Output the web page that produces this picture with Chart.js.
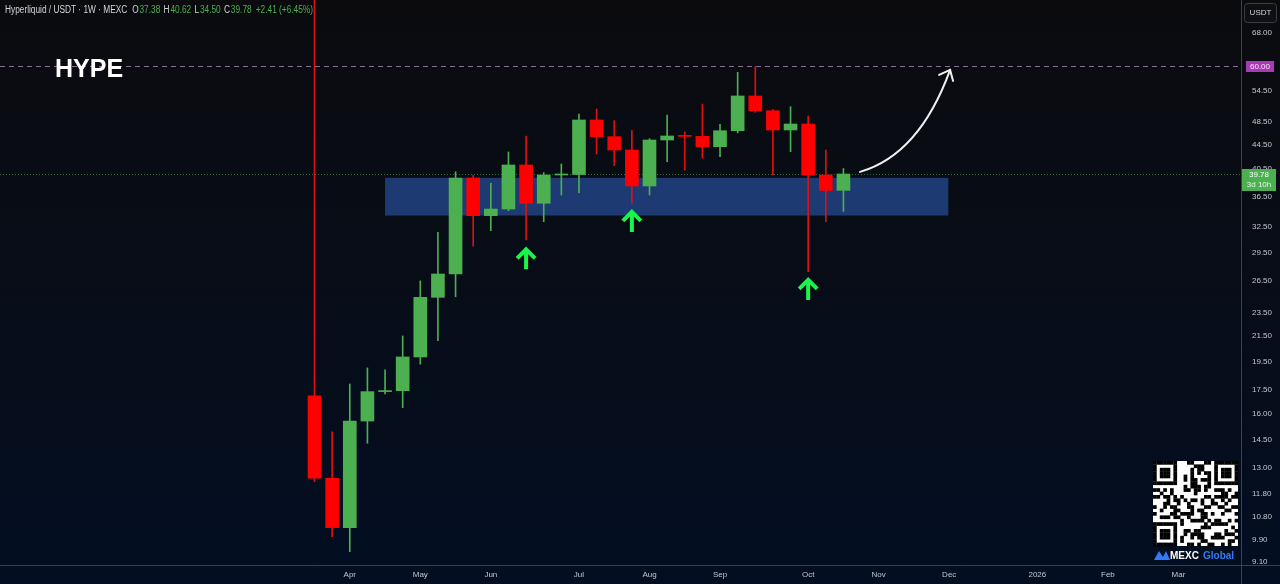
<!DOCTYPE html>
<html>
<head>
<meta charset="utf-8">
<script src="https://cdn.jsdelivr.net/npm/chart.js@4.4.1/dist/chart.umd.min.js"></script>
<style>
  html, body { margin: 0; padding: 0; background: #07090f; }
  canvas { display: block; }
</style>
</head>
<body>
<canvas id="chart" width="1280" height="584"></canvas>
<script>
// weekly candles, HYPE/USDT (MEXC)
const weeks = ['2025-03-17', '2025-03-24', '2025-03-31', '2025-04-07', '2025-04-14', '2025-04-21', '2025-04-28',
    '2025-05-05', '2025-05-12', '2025-05-19', '2025-05-26', '2025-06-02', '2025-06-09', '2025-06-16', '2025-06-23',
    '2025-06-30', '2025-07-07', '2025-07-14', '2025-07-21', '2025-07-28', '2025-08-04', '2025-08-11', '2025-08-18',
    '2025-08-25', '2025-09-01', '2025-09-08', '2025-09-15', '2025-09-22', '2025-09-29', '2025-10-06', '2025-10-13'];
const opens  = [17.12, 12.51, 10.37, 15.55, 17.39, 17.45, 19.84, 24.89, 27.20, 39.18, 33.95, 34.82, 41.17, 35.59, 39.63,
    39.70, 48.85, 45.85, 43.58, 38.01, 45.27, 45.97, 45.90, 44.13, 46.90, 53.52, 50.60, 47.03, 48.11, 39.63, 37.38];
const highs  = [90.00, 14.93, 17.90, 19.03, 18.90, 21.49, 26.50, 31.87, 40.12, 39.60, 38.40, 43.25, 45.97, 40.00, 41.33,
    49.98, 50.93, 48.71, 46.90, 45.50, 49.78, 46.72, 51.90, 48.06, 58.56, 59.82, 50.80, 51.38, 49.59, 43.58, 40.62];
const lows   = [12.35, 10.02, 9.46, 14.29, 17.24, 16.36, 19.30, 21.10, 24.95, 30.25, 32.07, 34.60, 30.95, 33.18, 36.72,
    37.05, 42.92, 41.06, 35.59, 36.72, 41.69, 40.39, 42.23, 42.49, 46.50, 50.30, 39.63, 43.30, 27.44, 33.18, 34.50];
const closes = [12.51, 10.37, 15.55, 17.39, 17.45, 19.84, 24.89, 27.20, 39.18, 33.95, 34.82, 41.17, 35.59, 39.63, 39.70,
    48.85, 45.85, 43.58, 38.01, 45.27, 45.97, 45.90, 44.13, 46.90, 53.52, 50.60, 47.03, 48.11, 39.63, 37.37, 39.78];

const priceTicks = [68, 60, 54.5, 48.5, 44.5, 40.5, 36.5, 32.5, 29.5, 26.5, 23.5, 21.5, 19.5, 17.5, 16, 14.5, 13, 11.8, 10.8, 9.9, 9.1];
const monthTickIdx = [2, 6, 10, 15, 19, 23, 28, 32, 36, 41, 45, 49];
const monthTickLabels = ['Apr', 'May', 'Jun', 'Jul', 'Aug', 'Sep', 'Oct', 'Nov', 'Dec', '2026', 'Feb', 'Mar'];

// drawings on the chart (week index / price)
const zoneFrom = 4, zoneTo = 35.95, zoneTop = 39.2, zoneBottom = 33.97;
const targetPrice = 60;
const bounceIdx = [12, 18, 28];
const bounceTip = [30.1, 34.7, 26.8];
const curveStart = [30.94, 40.1], curveCtrl = [34.3, 42.8], curveEnd = [36.05, 59.1];
const titlePos = [-14.72, 59.1];

const UP = '#4caf50';
const DOWN = '#ff0000';
const TEXT = '#c3c6ce';
const FRAME = '#8b1e2b';

const isUp = i => closes[i] >= opens[i];

function drawHeader(ctx) {
    const n = closes.length - 1;
    const chg = closes[n] - closes[n - 1];
    const pct = chg / closes[n - 1] * 100;
    const parts = [
        ['Hyperliquid / USDT · 1W · MEXC', '#d1d4dc', 6],
        ['O', '#d1d4dc', 1], [opens[n].toFixed(2), UP, 4],
        ['H', '#d1d4dc', 1], [highs[n].toFixed(2), UP, 4],
        ['L', '#d1d4dc', 1], [lows[n].toFixed(2), UP, 4],
        ['C', '#d1d4dc', 1], [closes[n].toFixed(2), UP, 5],
        [(chg >= 0 ? '+' : '') + chg.toFixed(2) + ' (' + (pct >= 0 ? '+' : '') + pct.toFixed(2) + '%)', UP, 0]
    ];
    ctx.save();
    ctx.font = '10px "Liberation Sans"';
    ctx.textBaseline = 'middle';
    ctx.translate(5, 10);
    ctx.scale(0.83, 1);
    let x = 0;
    parts.forEach(([t, c, gap]) => {
        ctx.fillStyle = c;
        ctx.fillText(t, x, 0);
        x += ctx.measureText(t).width + gap;
    });
    ctx.restore();
}

function drawQr(ctx, x0, y0, size) {
    const n = 25, m = size / n;
    ctx.fillStyle = '#ffffff';
    ctx.fillRect(x0, y0, size, size);
    ctx.fillStyle = '#000000';
    const finder = (r0, c0) => {
        for (let r = 0; r < 7; r++) for (let c = 0; c < 7; c++) {
            const edge = r === 0 || r === 6 || c === 0 || c === 6;
            const core = r >= 2 && r <= 4 && c >= 2 && c <= 4;
            if (edge || core) ctx.fillRect(x0 + (c0 + c) * m, y0 + (r0 + r) * m, m + 0.3, m + 0.3);
        }
    };
    for (let r = 0; r < n; r++) for (let c = 0; c < n; c++) {
        const inFinder = (r < 8 && c < 8) || (r < 8 && c > 16) || (r > 16 && c < 8);
        if (inFinder) continue;
        if (((r * 7 + c * 11) ^ (r * c)) % 5 < 2) ctx.fillRect(x0 + c * m, y0 + r * m, m + 0.3, m + 0.3);
    }
    finder(0, 0); finder(0, 18); finder(18, 0);
    // MEXC Global
    const ly = y0 + size + 9;
    ctx.fillStyle = '#2f7cf6';
    ctx.beginPath();
    ctx.moveTo(x0 + 1, ly + 5); ctx.lineTo(x0 + 6, ly - 4); ctx.lineTo(x0 + 10, ly + 2);
    ctx.lineTo(x0 + 13, ly - 4); ctx.lineTo(x0 + 17, ly + 5); ctx.closePath();
    ctx.fill();
    ctx.font = 'bold 10px "Liberation Sans"';
    ctx.textBaseline = 'middle';
    ctx.fillStyle = '#ffffff';
    ctx.fillText('MEXC', x0 + 17, ly + 1);
    ctx.fillStyle = '#2f7cf6';
    ctx.fillText('Global', x0 + 50, ly + 1);
}

const drawings = {
    id: 'drawings',
    beforeDraw(chart) {
        const ctx = chart.ctx;
        const g = ctx.createLinearGradient(0, 0, 0, chart.height);
        g.addColorStop(0, '#0b0b0e');
        g.addColorStop(1, '#030e22');
        ctx.save();
        ctx.fillStyle = g;
        ctx.fillRect(0, 0, chart.width, chart.height);
        ctx.restore();
    },
    beforeDatasetsDraw(chart) {
        const {ctx, chartArea: a, scales: {x, y}} = chart;
        ctx.save();
        // support zone
        const zx0 = x.getPixelForValue(zoneFrom), zx1 = x.getPixelForValue(zoneTo);
        const zy0 = y.getPixelForValue(zoneTop), zy1 = y.getPixelForValue(zoneBottom);
        ctx.fillStyle = '#1d3a72';
        ctx.fillRect(zx0, zy0, zx1 - zx0, zy1 - zy0);
        // last price line
        const ly = Math.round(y.getPixelForValue(closes[closes.length - 1])) + 0.5;
        ctx.strokeStyle = 'rgba(76,175,80,0.6)';
        ctx.setLineDash([1, 2]);
        ctx.lineWidth = 1;
        ctx.beginPath(); ctx.moveTo(a.left, ly); ctx.lineTo(a.right, ly); ctx.stroke();
        ctx.restore();
    },
    afterDraw(chart) {
        const {ctx, chartArea: a, scales: {x, y}} = chart;
        ctx.save();
        // target line
        const ty = Math.round(y.getPixelForValue(targetPrice)) + 0.5;
        ctx.strokeStyle = '#8e6c92';
        ctx.setLineDash([5, 4]);
        ctx.lineWidth = 1;
        ctx.beginPath(); ctx.moveTo(a.left, ty); ctx.lineTo(a.right, ty); ctx.stroke();
        ctx.setLineDash([]);

        // bounce arrows
        ctx.strokeStyle = '#19f54a';
        ctx.lineWidth = 4;
        ctx.lineJoin = 'miter';
        bounceIdx.forEach((idx, k) => {
            const px = x.getPixelForValue(idx), py = y.getPixelForValue(bounceTip[k]);
            ctx.beginPath();
            ctx.moveTo(px, py + 1); ctx.lineTo(px, py + 22);
            ctx.moveTo(px - 9, py + 11); ctx.lineTo(px, py + 2); ctx.lineTo(px + 9, py + 11);
            ctx.stroke();
        });

        // projection arrow
        const sx = x.getPixelForValue(curveStart[0]), sy = y.getPixelForValue(curveStart[1]);
        const cx = x.getPixelForValue(curveCtrl[0]), cy = y.getPixelForValue(curveCtrl[1]);
        const ex = x.getPixelForValue(curveEnd[0]), ey = y.getPixelForValue(curveEnd[1]);
        ctx.strokeStyle = '#f0f0f0';
        ctx.lineWidth = 2;
        ctx.lineCap = 'round';
        ctx.beginPath(); ctx.moveTo(sx, sy); ctx.quadraticCurveTo(cx, cy, ex, ey); ctx.stroke();
        ctx.beginPath();
        ctx.moveTo(ex - 11, ey + 5); ctx.lineTo(ex, ey); ctx.lineTo(ex + 3, ey + 11);
        ctx.stroke();

        // title
        ctx.fillStyle = '#ffffff';
        ctx.font = 'bold 25px "Liberation Sans"';
        ctx.textBaseline = 'middle';
        ctx.fillText('HYPE', x.getPixelForValue(titlePos[0]), y.getPixelForValue(titlePos[1]));

        // frame lines
        ctx.strokeStyle = FRAME;
        ctx.lineWidth = 1;
        ctx.beginPath();
        ctx.moveTo(0, a.bottom + 0.5); ctx.lineTo(chart.width, a.bottom + 0.5);
        ctx.moveTo(a.right + 0.5, 0); ctx.lineTo(a.right + 0.5, chart.height);
        ctx.stroke();

        // axis badges
        ctx.textBaseline = 'middle';
        ctx.textAlign = 'center';
        ctx.font = '8px "Liberation Sans"';
        ctx.fillStyle = '#0e0f13';
        ctx.strokeStyle = '#3a3d47';
        ctx.beginPath(); ctx.roundRect(1244.5, 3.5, 32, 19, 3); ctx.fill(); ctx.stroke();
        ctx.fillStyle = '#d1d4dc';
        ctx.fillText('USDT', 1260.5, 13);

        ctx.fillStyle = '#a93ab6';
        ctx.fillRect(1246, ty - 5.5, 28, 11);
        ctx.fillStyle = '#f3e6f5';
        ctx.fillText(targetPrice.toFixed(2), 1260, ty);

        const cy2 = y.getPixelForValue(closes[closes.length - 1]);
        ctx.fillStyle = UP;
        ctx.fillRect(a.right + 1, cy2 - 5, 34, 22);
        ctx.fillStyle = '#ffffff';
        ctx.fillText(closes[closes.length - 1].toFixed(2), 1259, cy2 + 0.5);
        ctx.fillStyle = '#e8f5e9';
        ctx.fillText('3d 10h', 1259, cy2 + 10.5);
        ctx.textAlign = 'left';

        drawHeader(ctx);
        drawQr(ctx, 1153, 461, 85);
        ctx.restore();
    }
};

const ctx = document.getElementById('chart').getContext('2d');

new Chart(ctx, {
    type: 'bar',
    data: {
        datasets: [{
            label: 'body',
            data: weeks.map((w, i) => ({x: i, y: [opens[i], closes[i]]})),
            backgroundColor: weeks.map((w, i) => isUp(i) ? UP : DOWN),
            maxBarThickness: 13,
            minBarLength: 1,
            grouped: false,
            categoryPercentage: 1,
            barPercentage: 1,
            order: 0
        }, {
            label: 'wick',
            data: weeks.map((w, i) => ({x: i, y: [lows[i], highs[i]]})),
            backgroundColor: weeks.map((w, i) => isUp(i) ? UP : '#e01010'),
            maxBarThickness: 1,
            grouped: false,
            categoryPercentage: 1,
            barPercentage: 1,
            order: 1
        }]
    },
    options: {
        responsive: false,
        animation: false,
        layout: { padding: 0 },
        plugins: {
            legend: { display: false },
            tooltip: { enabled: false }
        },
        scales: {
            x: {
                type: 'linear',
                min: -17.84,
                max: 52.55,
                offset: false,
                grid: { display: false, drawTicks: false, offset: false },
                border: { display: false },
                afterBuildTicks: s => { s.ticks = monthTickIdx.map(v => ({value: v})); },
                afterFit: s => { s.height = 19; s.paddingLeft = 0; s.paddingRight = 0; },
                ticks: {
                    autoSkip: false,
                    maxRotation: 0,
                    padding: 5,
                    color: TEXT,
                    font: { family: 'Liberation Sans', size: 8 },
                    callback: v => monthTickLabels[monthTickIdx.indexOf(v)]
                }
            },
            y: {
                type: 'logarithmic',
                position: 'right',
                min: 8.995,
                max: 77.09,
                grid: { display: false, drawTicks: false },
                border: { display: false },
                afterBuildTicks: s => { s.ticks = priceTicks.map(v => ({value: v})); },
                afterFit: s => { s.width = 39; s.paddingTop = 0; s.paddingBottom = 0; },
                ticks: {
                    padding: 11,
                    color: TEXT,
                    font: { family: 'Liberation Sans', size: 8 },
                    callback: v => Number(v).toFixed(2)
                }
            }
        }
    },
    plugins: [drawings]
});
</script>
</body>
</html>
